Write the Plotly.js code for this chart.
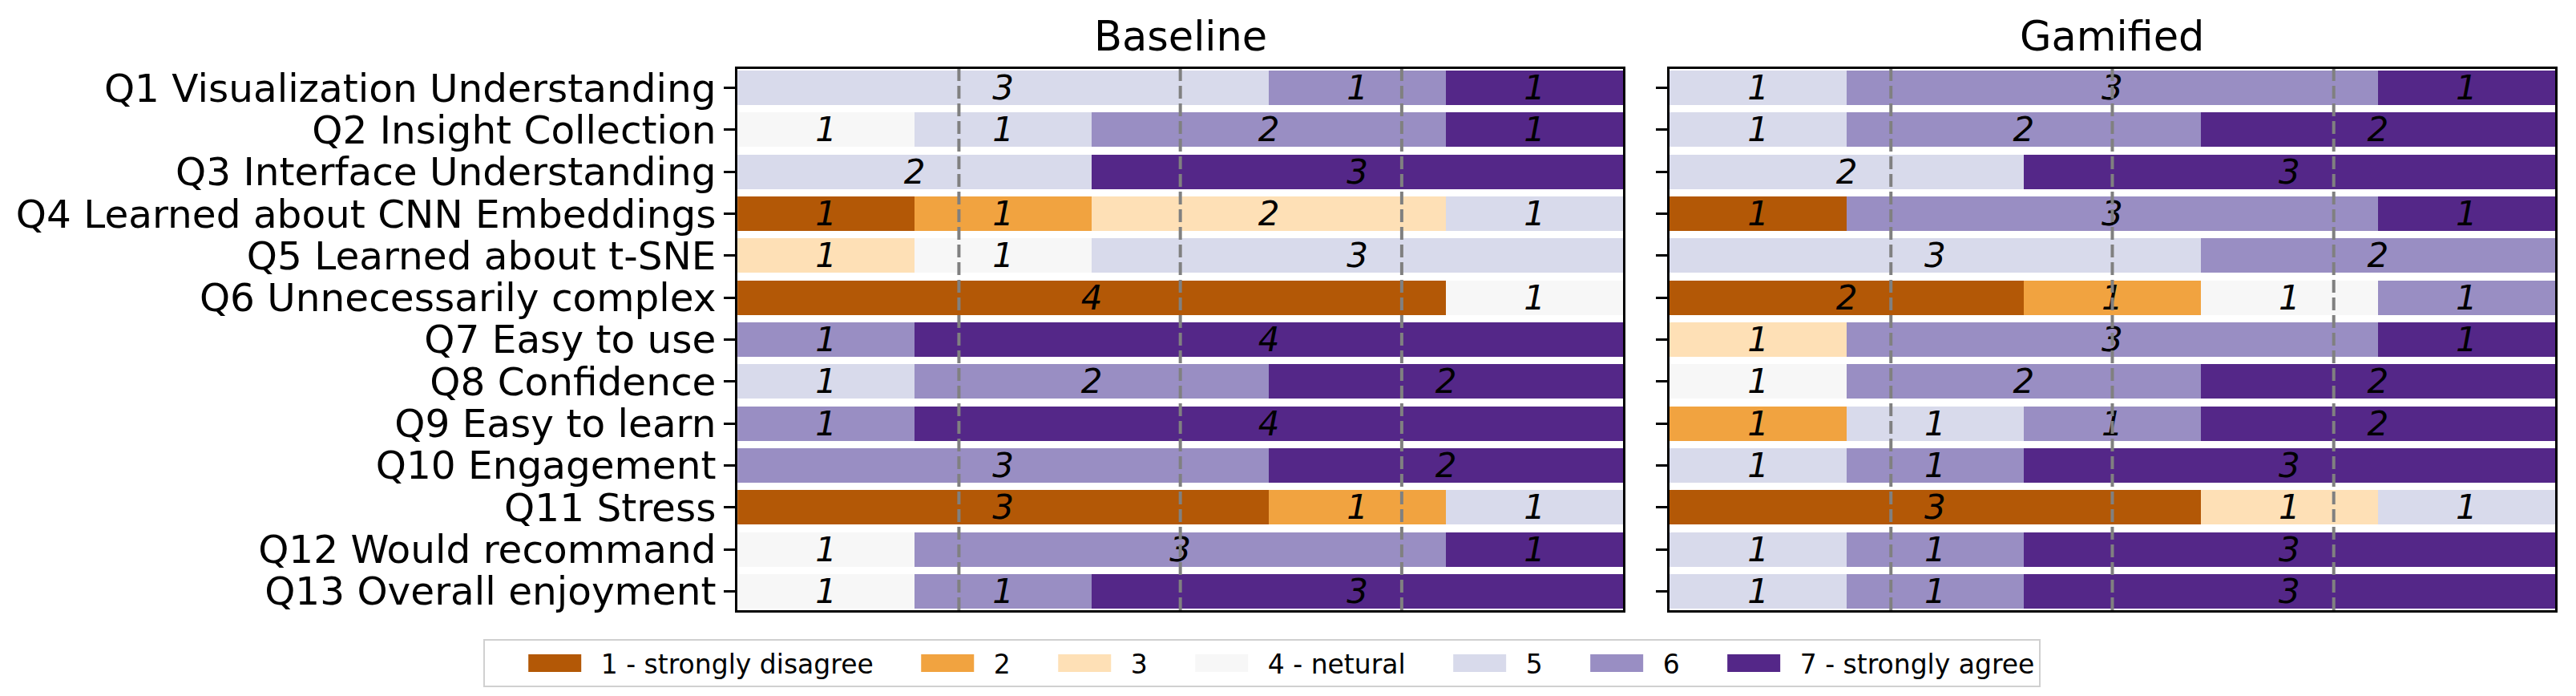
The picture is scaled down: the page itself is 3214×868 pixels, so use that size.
<!DOCTYPE html>
<html>
<head>
<meta charset="utf-8">
<script src="https://cdn.plot.ly/plotly-3.0.1.min.js"></script>
<style>
  html, body { margin: 0; padding: 0; background: #fff; }
  #chart { width: 3214px; height: 868px; }
</style>
</head>
<body>
<div id="chart"></div>
<script>
// Questions, top to bottom
const questions = [
    'Q1 Visualization Understanding',
    'Q2 Insight Collection',
    'Q3 Interface Understanding',
    'Q4 Learned about CNN Embeddings',
    'Q5 Learned about t-SNE',
    'Q6 Unnecessarily complex',
    'Q7 Easy to use',
    'Q8 Confidence',
    'Q9 Easy to learn',
    'Q10 Engagement',
    'Q11 Stress',
    'Q12 Would recommand',
    'Q13 Overall enjoyment'
];

// Likert levels and their colours (PuOr 7)
const levels = ['1 - strongly disagree', '2', '3', '4 - netural', '5', '6', '7 - strongly agree'];
const levelColors = ['#b35806', '#f1a340', '#fee0b6', '#f7f7f7', '#d8daeb', '#998ec3', '#542788'];

// counts per question, one column per level 1..7
const baselineCounts = [
    [0, 0, 0, 0, 3, 1, 1],
    [0, 0, 0, 1, 1, 2, 1],
    [0, 0, 0, 0, 2, 0, 3],
    [1, 1, 2, 0, 1, 0, 0],
    [0, 0, 1, 1, 3, 0, 0],
    [4, 0, 0, 1, 0, 0, 0],
    [0, 0, 0, 0, 0, 1, 4],
    [0, 0, 0, 0, 1, 2, 2],
    [0, 0, 0, 0, 0, 1, 4],
    [0, 0, 0, 0, 0, 3, 2],
    [3, 1, 0, 0, 1, 0, 0],
    [0, 0, 0, 1, 0, 3, 1],
    [0, 0, 0, 1, 0, 1, 3]
];

const gamifiedCounts = [
    [0, 0, 0, 0, 1, 3, 1],
    [0, 0, 0, 0, 1, 2, 2],
    [0, 0, 0, 0, 2, 0, 3],
    [1, 0, 0, 0, 0, 3, 1],
    [0, 0, 0, 0, 3, 2, 0],
    [2, 1, 0, 1, 0, 1, 0],
    [0, 0, 1, 0, 0, 3, 1],
    [0, 0, 0, 1, 0, 2, 2],
    [0, 1, 0, 0, 1, 1, 2],
    [0, 0, 0, 0, 1, 1, 3],
    [3, 0, 1, 0, 1, 0, 0],
    [0, 0, 0, 0, 1, 1, 3],
    [0, 0, 0, 0, 1, 1, 3]
];

const panelTitles = ['Baseline', 'Gamified'];
const nParticipants = 5;
const quartileMarks = [1.25, 2.5, 3.75];

const FONT = 'DejaVu Sans, sans-serif';

function buildTraces(counts, xa, ya, showLegend) {
    return levels.map((lvl, li) => {
        const xs = counts.map(row => row[li]);
        return {
            type: 'bar',
            orientation: 'h',
            x: xs,
            y: questions,
            xaxis: xa,
            yaxis: ya,
            width: 0.82,
            name: lvl,
            legendgroup: lvl,
            showlegend: showLegend,
            marker: { color: levelColors[li], line: { width: 0 } },
            text: xs.map(v => v > 0 ? String(v) : ''),
            textposition: 'inside',
            insidetextanchor: 'middle',
            textangle: 0,
            constraintext: 'none',
            textfont: { family: FONT, size: 42, color: '#000', style: 'italic' },
            hoverinfo: 'skip'
        };
    });
}

const traces = [
    ...buildTraces(baselineCounts, 'x', 'y', true),
    ...buildTraces(gamifiedCounts, 'x2', 'y2', false)
];

const yDomain = [0.1233, 0.9009];
const xDomains = [[0.2863, 0.6301], [0.6481, 0.9919]];

function xAxis(domain, anchor) {
    return {
        domain: domain,
        anchor: anchor,
        range: [0, nParticipants],
        showticklabels: false,
        ticks: '',
        showgrid: false,
        zeroline: false,
        showline: true,
        mirror: true,
        linecolor: '#000',
        linewidth: 3,
        fixedrange: true
    };
}

function yAxis(anchor, labels) {
    return {
        domain: yDomain,
        anchor: anchor,
        type: 'category',
        categoryorder: 'array',
        categoryarray: questions,
        range: [12.45, -0.45],
        tickmode: 'linear',
        tick0: 0,
        dtick: 1,
        showticklabels: labels,
        ticks: 'outside',
        ticklen: 14,
        tickwidth: 3,
        tickcolor: '#000',
        tickfont: { family: FONT, size: 48.5, color: '#000' },
        showgrid: false,
        zeroline: false,
        showline: true,
        mirror: true,
        linecolor: '#000',
        linewidth: 3,
        automargin: false,
        fixedrange: true
    };
}

// dashed quartile guides on both panels
const shapes = [];
['x', 'x2'].forEach((xr, pi) => {
    quartileMarks.forEach(q => {
        shapes.push({
            type: 'line',
            xref: xr,
            yref: (pi === 0 ? 'y' : 'y2') + ' domain',
            x0: q, x1: q,
            y0: 0, y1: 1,
            layer: 'above',
            line: { color: '#808080', width: 4, dash: '16px,6px' }
        });
    });
});

const annotations = panelTitles.map((t, i) => ({
    text: t,
    xref: 'paper',
    yref: 'paper',
    x: (xDomains[i][0] + xDomains[i][1]) / 2,
    y: 0.948,
    xanchor: 'center',
    yanchor: 'middle',
    showarrow: false,
    font: { family: FONT, size: 51, color: '#000' }
}));

const layout = {
    width: 3214,
    height: 868,
    margin: { l: 0, r: 0, t: 0, b: 0 },
    paper_bgcolor: '#fff',
    plot_bgcolor: '#fff',
    barmode: 'stack',
    bargap: 0,
    font: { family: FONT, color: '#000' },
    uniformtext: { mode: 'show', minsize: 42 },
    xaxis: xAxis(xDomains[0], 'y'),
    yaxis: yAxis('x', true),
    xaxis2: xAxis(xDomains[1], 'y2'),
    yaxis2: yAxis('x2', false),
    shapes: shapes,
    annotations: annotations,
    showlegend: true,
    legend: {
        orientation: 'h',
        x: 0.4898,
        xanchor: 'center',
        y: 0.0818,
        yanchor: 'top',
        traceorder: 'normal',
        bordercolor: '#d0d0d0',
        borderwidth: 2,
        bgcolor: '#fff',
        itemwidth: 135,
        font: { family: FONT, size: 33, color: '#000' }
    }
};

Plotly.newPlot('chart', traces, layout, { staticPlot: true, displayModeBar: false }).then(gd => {
    // matplotlib-style wide legend patches, sitting just left of their text
    gd.querySelectorAll('.legend .legendpoints path').forEach(p => {
        p.setAttribute('d', 'M48,11H-18V-11H48Z');
    });
});
</script>
</body>
</html>
